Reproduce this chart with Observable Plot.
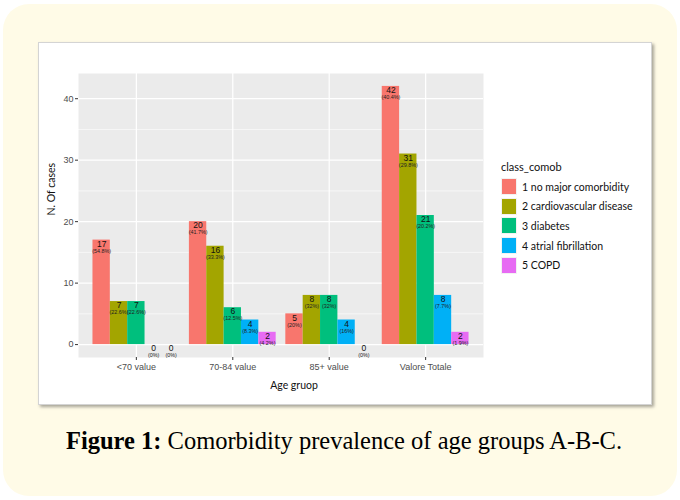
<!DOCTYPE html>
<html>
<head>
<meta charset="utf-8">
<script src="https://cdn.jsdelivr.net/npm/d3@7"></script>
<script src="https://cdn.jsdelivr.net/npm/@observablehq/plot@0.6"></script>
<style>
  html, body { margin: 0; padding: 0; background: #ffffff; }
  #page { position: relative; width: 680px; height: 500px; overflow: hidden; background: #ffffff; }
  #cream { position: absolute; left: 3px; top: 4px; width: 674px; height: 492px; border-radius: 26px; background: #fffbe7; }
  #box { position: absolute; left: 38px; top: 42px; width: 612px; height: 361px; background: #ffffff; border: 1px solid #d4d4d4; box-shadow: 2px 2px 3px rgba(0,0,0,0.35); }
  #chart { position: absolute; left: 38px; top: 42px; }
  #legend { position: absolute; left: 501px; top: 159px; font-family: Lato, "Open Sans", sans-serif; color: #111; }
  #legend .title { font-size: 11px; height: 16px; line-height: 16px; margin-bottom: 3px; }
  #legend .row { display: flex; align-items: center; height: 17px; margin-bottom: 2.7px; }
  #legend .key { width: 16px; height: 17px; box-sizing: border-box; border: 1px solid #f2f2f2; }
  #legend .lab { font-size: 10.5px; margin-left: 5px; }
  #caption { position: absolute; left: 4px; width: 680px; top: 427px; text-align: center; font-family: "Liberation Serif", serif; font-size: 24.5px; color: #000; }
</style>
</head>
<body>
<div id="page">
  <div id="cream"></div>
  <div id="box"></div>
  <div id="chart"></div>
  <div id="legend"></div>
  <div id="caption"><b>Figure 1:</b> Comorbidity prevalence of age groups A-B-C.</div>
</div>
<script>
const groups = ["<70 value", "70-84 value", "85+ value", "Valore Totale"];
const classes = ["1 no major comorbidity", "2 cardiovascular disease", "3 diabetes", "4 atrial fibrillation", "5 COPD"];
const classColors = ["#F8766D", "#A3A500", "#00BF7D", "#00B0F6", "#E76BF3"];
const counts = [
  [17, 7, 7, 0, 0],
  [20, 16, 6, 4, 2],
  [5, 8, 8, 4, 0],
  [42, 31, 21, 8, 2]
];
const percents = [
  ["54.8%", "22.6%", "22.6%", "0%", "0%"],
  ["41.7%", "33.3%", "12.5%", "8.3%", "4.2%"],
  ["20%", "32%", "32%", "16%", "0%"],
  ["40.4%", "29.8%", "20.2%", "7.7%", "1.9%"]
];
const yTicks = [0, 10, 20, 30, 40];
const yMinor = [5, 15, 25, 35];

const dodge = 0.9 / classes.length;
const rows = [];
groups.forEach((g, gi) => {
  classes.forEach((c, ci) => {
    const pos = gi + 1 + (ci - (classes.length - 1) / 2) * dodge;
    rows.push({group: g, cls: c, count: counts[gi][ci], pct: percents[gi][ci],
               pos, x1: pos - dodge / 2, x2: pos + dodge / 2});
  });
});
const groupPos = groups.map((g, i) => i + 1);

const chart = Plot.plot({
  width: 614,
  height: 363,
  marginLeft: 40,
  marginRight: 169,
  marginTop: 31,
  marginBottom: 48,
  style: {background: "transparent", overflow: "visible"},
  x: {domain: [0.4, 4.6], axis: null},
  y: {domain: [-2.1, 44.1], axis: null},
  color: {domain: classes, range: classColors},
  marks: [
    Plot.frame({fill: "#EBEBEB", stroke: null}),
    Plot.ruleY(yMinor, {stroke: "#ffffff", strokeWidth: 0.6}),
    Plot.ruleY(yTicks, {stroke: "#ffffff", strokeWidth: 1.2}),
    Plot.ruleX(groupPos, {stroke: "#ffffff", strokeWidth: 1.2}),
    Plot.rect(rows, {x1: "x1", x2: "x2", y1: 0, y2: "count", fill: "cls"}),
    Plot.text(rows, {x: "pos", y: "count", text: d => String(d.count), dy: 4, fontSize: 8.5,
      fill: "#111", fontFamily: "Liberation Sans, Arial, sans-serif"}),
    Plot.text(rows, {x: "pos", y: "count", text: d => `(${d.pct})`, dy: 11, fontSize: 5.4,
      fill: "#222", fontFamily: "Liberation Sans, Arial, sans-serif"}),
    Plot.axisY(yTicks, {tickSize: 3, tickPadding: 2, fontSize: 9, color: "#4D4D4D",
      stroke: "#333", label: null, fontFamily: "Liberation Sans, Arial, sans-serif"}),
    Plot.axisX(groupPos, {tickSize: 3, tickPadding: 3, fontSize: 9, color: "#4D4D4D",
      stroke: "#333", label: null, tickFormat: i => groups[i - 1],
      fontFamily: "Liberation Sans, Arial, sans-serif"}),
    Plot.text(["Age gruop"], {frameAnchor: "bottom", dy: 31, dx: 13, fontSize: 10.5,
      fill: "#111", fontFamily: "Lato, sans-serif"}),
    Plot.text(["N. Of cases"], {frameAnchor: "left", dx: -27, rotate: -90, fontSize: 10.5,
      fill: "#111", fontFamily: "Lato, sans-serif"})
  ]
});
document.getElementById("chart").appendChild(chart);

const legend = document.getElementById("legend");
const t = document.createElement("div");
t.className = "title";
t.textContent = "class_comob";
legend.appendChild(t);
classes.forEach((c, i) => {
  const r = document.createElement("div");
  r.className = "row";
  const k = document.createElement("div");
  k.className = "key";
  k.style.background = classColors[i];
  const l = document.createElement("div");
  l.className = "lab";
  l.textContent = c;
  r.appendChild(k); r.appendChild(l);
  legend.appendChild(r);
});
</script>
</body>
</html>
